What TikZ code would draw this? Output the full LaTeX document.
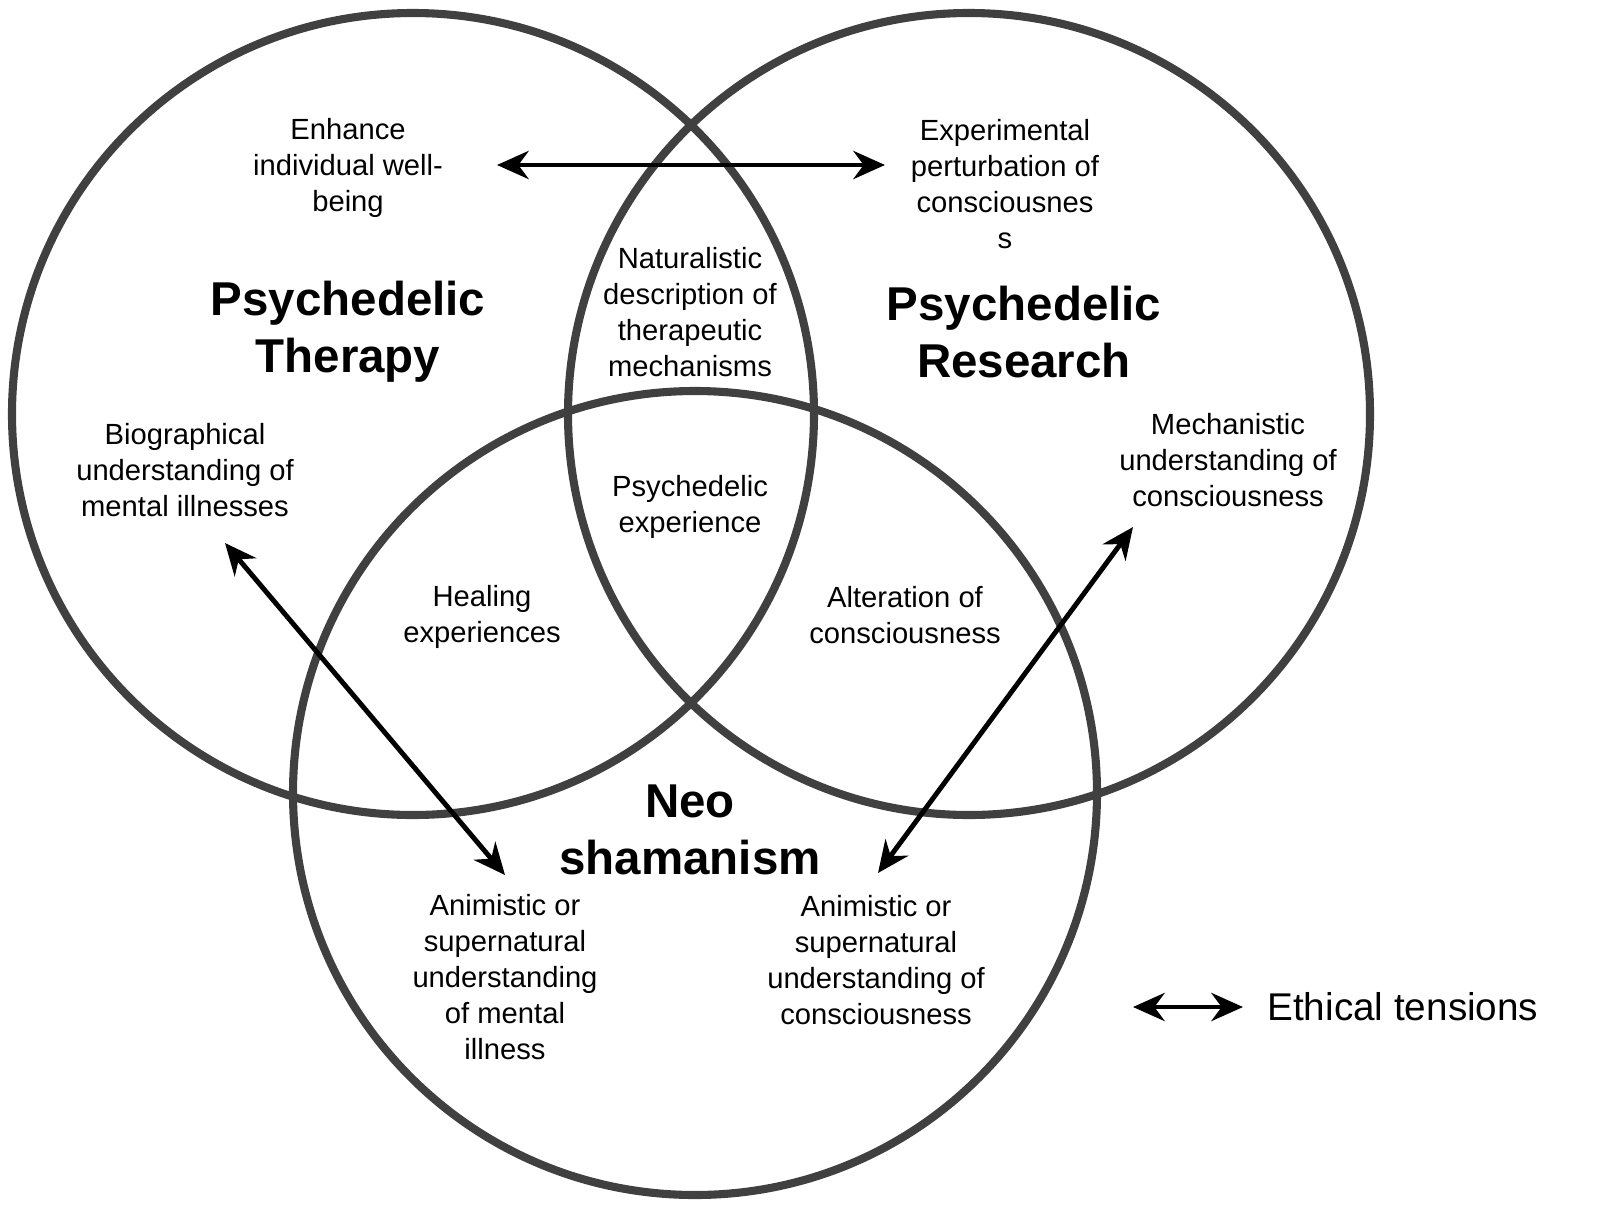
\documentclass[tikz,border=0pt]{standalone}
\usepackage{fontspec}
\setmainfont{Liberation Sans}
\usetikzlibrary{arrows.meta}
\tikzset{
	ring/.style={draw=black!75, line width=2.3pt},
	lbl/.style={align=center, font=\fontsize{8.3}{10.2}\selectfont},
	ttl/.style={align=center, font=\fontsize{13.5}{16.3}\selectfont\bfseries},
	ethic/.style={line width=1.4pt, {Stealth[length=9pt,width=8pt]}-{Stealth[length=9pt,width=8pt]}}
}
\begin{document}
\begin{tikzpicture}[x=0.01cm,y=-0.01cm]
	\useasboundingbox (0,0) rectangle (1600,1224);
	% circles
	\draw[ring] (413,414) circle (401);
	\draw[ring] (969,414) circle (401);
	\draw[ring] (695,793) circle (402);

	% titles
	\node[ttl] (ther) at (348,332) {Psychedelic\\Therapy};
	\node[ttl] (res) at (1024,332) {Psychedelic\\Research};
	\node[ttl] (neo) at (690,830) {Neo\\shamanism};

	% labels
	\node[lbl] (well) at (348,168) {Enhance\\individual well-\\being};
	\node[lbl] (pert) at (1005,184) {Experimental\\perturbation of\\consciousnes\\s};
	\node[lbl] (nat) at (690,312) {Naturalistic\\description of\\therapeutic\\mechanisms};
	\node[lbl] (bio) at (185,470) {Biographical\\understanding of\\mental illnesses};
	\node[lbl] (mech) at (1228,460) {Mechanistic\\understanding of\\consciousness};
	\node[lbl] (exp) at (690,507) {Psychedelic\\experience};
	\node[lbl] (heal) at (482,617) {Healing\\experiences};
	\node[lbl] (alt) at (905,615) {Alteration of\\consciousness};
	\node[lbl] (animl) at (505,977) {Animistic or\\supernatural\\understanding\\of mental\\illness};
	\node[lbl] (animr) at (876,960) {Animistic or\\supernatural\\understanding of\\consciousness};

	% tensions
	\coordinate (a1) at (497,165);
	\coordinate (a2) at (885,165);
	\coordinate (b1) at (225,543);
	\coordinate (b2) at (505,875);
	\coordinate (c1) at (1133,527);
	\coordinate (c2) at (878,873);
	\draw[ethic] (a1) -- (a2);
	\draw[ethic] (b1) -- (b2);
	\draw[ethic] (c1) -- (c2);

	% legend
	\coordinate (l1) at (1133,1007);
	\coordinate (l2) at (1243,1007);
	\draw[ethic] (l1) -- (l2);
	\node[anchor=west, font=\fontsize{11}{13}\selectfont] (leg) at (1255,1007) {Ethical tensions};
\end{tikzpicture}
\end{document}
